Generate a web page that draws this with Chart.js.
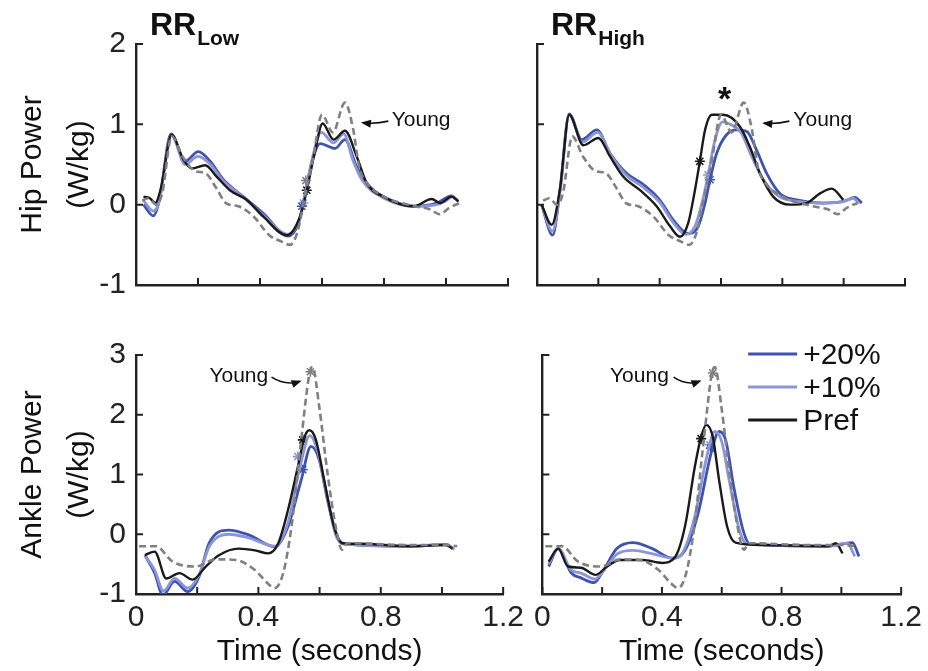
<!DOCTYPE html>
<html>
<head>
<meta charset="utf-8">
<script src="https://cdn.jsdelivr.net/npm/chart.js@4.4.1/dist/chart.umd.min.js"></script>
<style>
  body { margin: 0; background: #fff; }
  #fig { position: relative; width: 928px; height: 671px; overflow: hidden; background: #fff; }
  #fig canvas { position: absolute; }
</style>
</head>
<body>
<div id="fig">
  <canvas id="ankleLow" width="530" height="351" style="left:0;top:320px"></canvas>
  <canvas id="ankleHigh" width="400" height="351" style="left:528px;top:320px"></canvas>
  <canvas id="hipLow" width="530" height="320" style="left:0;top:0"></canvas>
  <canvas id="hipHigh" width="400" height="320" style="left:528px;top:0"></canvas>
</div>
<script>
// [time (s), power (W/kg)]
const hipYoung = [[0.02,0.05],[0.04,0.08],[0.065,0.0],[0.085,0.15],[0.115,0.85],[0.15,0.6],[0.19,0.42],[0.225,0.39],[0.26,0.2],[0.29,0.02],[0.33,-0.02],[0.38,-0.15],[0.43,-0.38],[0.47,-0.46],[0.497,-0.5],[0.52,-0.35],[0.545,0.1],[0.57,0.55],[0.6,1.12],[0.635,0.9],[0.674,1.27],[0.7,0.95],[0.72,0.47],[0.745,0.27],[0.8,0.1],[0.9,-0.02],[0.95,-0.06],[0.98,-0.12],[1.01,-0.04],[1.045,0.02]]
const ankleYoung = [[0.01,-0.2],[0.065,-0.2],[0.12,-0.46],[0.196,-0.54],[0.26,-0.42],[0.325,-0.43],[0.389,-0.6],[0.43,-0.82],[0.454,-0.9],[0.481,-0.65],[0.508,0.12],[0.54,1.58],[0.567,2.69],[0.577,2.8],[0.599,2.13],[0.626,1.02],[0.653,0.12],[0.674,-0.26],[0.69,-0.15],[0.895,-0.18],[1.013,-0.18],[1.05,-0.2]]

const hipLowPref = [[0.024,0.1],[0.045,0.08],[0.062,0.02],[0.08,0.2],[0.115,0.87],[0.153,0.56],[0.18,0.45],[0.223,0.49],[0.26,0.35],[0.303,0.18],[0.357,0.06],[0.411,-0.15],[0.486,-0.38],[0.529,-0.15],[0.551,0.18],[0.577,0.66],[0.602,1.01],[0.637,0.81],[0.674,0.92],[0.712,0.6],[0.744,0.27],[0.798,0.1],[0.895,-0.02],[0.954,0.07],[0.981,0.02],[1.018,0.1],[1.04,0.04]]
const hipLowP10 = [[0.024,0.05],[0.056,-0.08],[0.074,0.03],[0.115,0.87],[0.158,0.5],[0.2,0.6],[0.24,0.5],[0.28,0.3],[0.35,0.08],[0.41,-0.13],[0.49,-0.37],[0.525,-0.2],[0.54,0.02],[0.567,0.55],[0.598,0.9],[0.637,0.77],[0.67,0.88],[0.7,0.55],[0.73,0.3],[0.8,0.08],[0.9,-0.02],[0.97,0.0],[1.0,0.05],[1.02,0.1],[1.04,0.04]]
const hipLowP20 = [[0.024,0.0],[0.056,-0.14],[0.075,0.05],[0.113,0.88],[0.158,0.54],[0.201,0.66],[0.239,0.54],[0.282,0.31],[0.346,0.1],[0.411,-0.11],[0.491,-0.39],[0.524,-0.23],[0.54,0.02],[0.567,0.52],[0.594,0.76],[0.642,0.7],[0.674,0.81],[0.712,0.47],[0.755,0.22],[0.819,0.06],[0.895,-0.02],[0.97,0.02],[1.018,0.11],[1.04,0.04]]

const hipHighPref = [[0.015,0.0],[0.048,-0.25],[0.075,0.2],[0.105,1.12],[0.151,0.74],[0.2,0.83],[0.238,0.6],[0.281,0.35],[0.336,0.18],[0.39,-0.02],[0.434,-0.27],[0.466,-0.4],[0.493,-0.23],[0.515,0.18],[0.531,0.54],[0.548,0.93],[0.57,1.12],[0.607,1.12],[0.662,0.97],[0.694,0.72],[0.727,0.39],[0.77,0.1],[0.825,0.0],[0.879,0.02],[0.923,0.14],[0.961,0.2],[0.999,0.06]]
const hipHighP10 = [[0.015,0.0],[0.05,-0.33],[0.075,0.15],[0.105,1.12],[0.148,0.78],[0.198,0.9],[0.24,0.62],[0.29,0.37],[0.345,0.22],[0.4,0.03],[0.444,-0.22],[0.485,-0.37],[0.515,-0.27],[0.54,0.05],[0.558,0.37],[0.58,0.8],[0.605,1.03],[0.63,1.0],[0.665,0.9],[0.7,0.6],[0.74,0.3],[0.79,0.1],[0.85,0.04],[0.93,0.02],[1.0,0.04],[1.03,0.08],[1.05,0.02]]
const hipHighP20 = [[0.015,0.0],[0.051,-0.38],[0.075,0.18],[0.105,1.13],[0.146,0.81],[0.195,0.93],[0.238,0.64],[0.292,0.39],[0.347,0.25],[0.4,0.06],[0.444,-0.19],[0.493,-0.36],[0.526,-0.27],[0.548,0.02],[0.564,0.31],[0.586,0.64],[0.618,0.87],[0.651,0.93],[0.684,0.91],[0.716,0.68],[0.749,0.39],[0.792,0.14],[0.847,0.06],[0.934,0.02],[0.999,0.04],[1.037,0.09],[1.059,0.02]]

const ankleLowPref = [[0.029,-0.35],[0.061,-0.29],[0.099,-0.74],[0.142,-0.65],[0.185,-0.76],[0.228,-0.54],[0.271,-0.35],[0.335,-0.24],[0.389,-0.27],[0.432,-0.32],[0.465,-0.15],[0.497,0.41],[0.529,1.13],[0.551,1.63],[0.567,1.74],[0.588,1.58],[0.615,0.91],[0.647,0.13],[0.674,-0.15],[0.733,-0.16],[0.895,-0.2],[1.013,-0.18],[1.034,-0.24]]
const ankleLowP10 = [[0.029,-0.35],[0.061,-0.6],[0.09,-0.95],[0.126,-0.74],[0.169,-0.9],[0.206,-0.68],[0.24,-0.2],[0.303,0.0],[0.368,-0.06],[0.454,-0.2],[0.497,0.2],[0.535,1.1],[0.568,1.65],[0.593,1.4],[0.62,0.75],[0.652,0.0],[0.675,-0.16],[0.895,-0.2],[1.013,-0.17],[1.04,-0.25]]
const ankleLowP20 = [[0.029,-0.35],[0.061,-0.65],[0.088,-1.02],[0.126,-0.79],[0.169,-0.96],[0.206,-0.71],[0.239,-0.15],[0.303,0.07],[0.368,-0.01],[0.454,-0.21],[0.497,0.13],[0.54,0.91],[0.572,1.47],[0.599,1.24],[0.626,0.57],[0.658,-0.04],[0.68,-0.16],[0.895,-0.2],[1.013,-0.17],[1.04,-0.25]]

const ankleHighPref = [[0.021,-0.46],[0.053,-0.24],[0.086,-0.54],[0.129,-0.56],[0.178,-0.68],[0.216,-0.54],[0.26,-0.43],[0.336,-0.43],[0.401,-0.48],[0.444,-0.38],[0.477,0.13],[0.51,1.13],[0.531,1.63],[0.548,1.83],[0.57,1.63],[0.591,0.91],[0.618,0.13],[0.646,-0.14],[0.738,-0.18],[0.955,-0.2],[0.982,-0.15],[1.004,-0.32]]
const ankleHighP10 = [[0.021,-0.5],[0.053,-0.24],[0.097,-0.6],[0.129,-0.65],[0.175,-0.75],[0.21,-0.58],[0.25,-0.33],[0.303,-0.27],[0.37,-0.33],[0.434,-0.4],[0.47,-0.3],[0.51,0.3],[0.55,1.3],[0.577,1.72],[0.6,1.55],[0.625,0.9],[0.66,0.05],[0.685,-0.16],[0.955,-0.2],[1.02,-0.15],[1.045,-0.37]]
const ankleHighP20 = [[0.021,-0.54],[0.053,-0.24],[0.097,-0.65],[0.129,-0.73],[0.173,-0.81],[0.205,-0.6],[0.249,-0.24],[0.303,-0.14],[0.368,-0.24],[0.434,-0.4],[0.477,-0.27],[0.521,0.35],[0.564,1.35],[0.591,1.72],[0.613,1.58],[0.64,0.8],[0.673,0.04],[0.694,-0.16],[0.955,-0.2],[1.037,-0.14],[1.059,-0.37]]

// small asterisk marks, order: Pref, +10%, +20%, Young
const hipLowStars = [[0.551,0.18],[0.54,0.02],[0.535,-0.02],[0.548,0.3]]
const hipHighStars = [[0.531,0.54],[0.558,0.37],[0.564,0.31]]
const ankleLowStars = [[0.545,1.58],[0.529,1.3],[0.545,1.08],[0.57,2.72]]
const ankleHighStars = [[0.531,1.6],[0.56,1.5],[0.564,1.44],[0.57,2.7]]

const xTicks = [0, 0.4, 0.8, 1.2]
const legendLabels = ['+20%', '+10%', 'Pref']

const BLUE = '#3e54b0'
const LIGHT = '#8c96d7'
const BLACK = '#1a1a1a'
const GREY = '#808080'
const starColors = [BLACK, LIGHT, BLUE, GREY]

Chart.defaults.font.family = "'Liberation Sans', Arial, sans-serif"
Chart.defaults.color = '#1a1a1a'

const toXY = (pts) => pts.map(([x, y]) => ({ x, y }))

function arrow(ctx, x0, y0, cx, cy, x1, y1) {
  ctx.beginPath()
  ctx.moveTo(x0, y0)
  ctx.quadraticCurveTo(cx, cy, x1, y1)
  ctx.stroke()
  const ang = Math.atan2(y1 - cy, x1 - cx)
  ctx.beginPath()
  ctx.moveTo(x1 + Math.cos(ang) * 2, y1 + Math.sin(ang) * 2)
  ctx.lineTo(x1 - Math.cos(ang) * 8 - Math.sin(ang) * 4, y1 - Math.sin(ang) * 8 + Math.cos(ang) * 4)
  ctx.lineTo(x1 - Math.cos(ang) * 8 + Math.sin(ang) * 4, y1 - Math.sin(ang) * 8 - Math.cos(ang) * 4)
  ctx.closePath()
  ctx.fill()
}

const deco = {
  id: 'deco',
  afterDraw(chart, args, o) {
    const { ctx, chartArea: a, scales: { x, y } } = chart
    const px = (t) => x.getPixelForValue(t)
    const py = (v) => y.getPixelForValue(v)
    ctx.save()
    // inward tick marks
    ctx.strokeStyle = '#222'
    ctx.lineWidth = 2
    ctx.beginPath()
    x.ticks.forEach((t) => { const p = px(t.value); ctx.moveTo(p, a.bottom); ctx.lineTo(p, a.bottom - 7) })
    y.ticks.forEach((t) => { const p = py(t.value); ctx.moveTo(a.left, p); ctx.lineTo(a.left + 7, p) })
    ctx.stroke()

    ctx.fillStyle = '#111'
    // panel title with subscript
    if (o.sub) {
      ctx.textBaseline = 'alphabetic'
      ctx.textAlign = 'left'
      ctx.font = "bold 32px 'Liberation Sans', Arial, sans-serif"
      const tx = a.left + 14
      ctx.fillText('RR', tx, a.top - 9)
      const w = ctx.measureText('RR').width
      ctx.font = "bold 21px 'Liberation Sans', Arial, sans-serif"
      ctx.fillText(o.sub, tx + w + 1, a.top + 1)
    }
    // y title
    if (o.yTitle) {
      ctx.font = "30px 'Liberation Sans', Arial, sans-serif"
      ctx.textAlign = 'center'
      ctx.textBaseline = 'middle'
      const cy = (a.top + a.bottom) / 2
      o.yTitle.forEach((line, i) => {
        ctx.save()
        ctx.translate(a.left - 103 + i * 47, cy)
        ctx.rotate(-Math.PI / 2)
        ctx.fillText(line, 0, 0)
        ctx.restore()
      })
    }
    // x title
    if (o.xTitle) {
      ctx.font = "30px 'Liberation Sans', Arial, sans-serif"
      ctx.textAlign = 'center'
      ctx.textBaseline = 'middle'
      ctx.fillText(o.xTitle, (a.left + a.right) / 2, a.bottom + 58)
    }
    // "Young" callout
    if (o.young) {
      const g = o.young
      ctx.font = "21px 'Liberation Sans', Arial, sans-serif"
      ctx.textBaseline = 'middle'
      ctx.textAlign = g.align
      ctx.fillText('Young', px(g.text[0]), py(g.text[1]))
      ctx.strokeStyle = '#111'
      ctx.lineWidth = 1.6
      arrow(ctx, px(g.from[0]), py(g.from[1]), px(g.ctrl[0]), py(g.ctrl[1]), px(g.to[0]), py(g.to[1]))
    }
    // significance star
    if (o.star) {
      ctx.font = "bold 34px 'Liberation Sans', Arial, sans-serif"
      ctx.textAlign = 'center'
      ctx.textBaseline = 'middle'
      ctx.fillText('*', px(o.star[0]), py(o.star[1]))
    }
    // legend
    if (o.legend) {
      const sets = chart.data.datasets
      ctx.font = "30px 'Liberation Sans', Arial, sans-serif"
      ctx.textAlign = 'left'
      ctx.textBaseline = 'middle'
      legendLabels.forEach((lab, i) => {
        const ds = sets.find((d) => d.label === lab)
        const ly = a.top - 1 + i * 33
        ctx.strokeStyle = ds.borderColor
        ctx.lineWidth = 3
        ctx.beginPath()
        ctx.moveTo(a.right - 153, ly)
        ctx.lineTo(a.right - 104, ly)
        ctx.stroke()
        ctx.fillStyle = '#111'
        ctx.fillText(lab, a.right - 98, ly + 2)
      })
    }
    ctx.restore()
  },
}

function makePanel(id, series, stars, opts) {
  const [young, pref, p10, p20] = series
  const line = (label, pts, color, width, dash) => ({
    label,
    data: toXY(pts),
    borderColor: color,
    borderWidth: width,
    borderDash: dash || [],
    pointRadius: 0,
    fill: false,
    cubicInterpolationMode: 'monotone',
  })
  const datasets = [
    line('Young', young, GREY, 2.6, [7, 4]),
    line('Pref', pref, BLACK, 2.4),
    line('+10%', p10, LIGHT, 2.8),
    line('+20%', p20, BLUE, 2.8),
    {
      label: 'marks',
      data: toXY(stars),
      showLine: false,
      pointStyle: 'star',
      pointRadius: 5,
      pointBorderWidth: 1.6,
      pointBorderColor: starColors.slice(0, stars.length),
      pointBackgroundColor: 'transparent',
    },
  ]
  return new Chart(document.getElementById(id), {
    type: 'line',
    data: { datasets },
    options: {
      responsive: false,
      animation: false,
      devicePixelRatio: 1,
      layout: { padding: opts.padding },
      plugins: { legend: { display: false }, tooltip: { enabled: false }, deco: opts.deco },
      scales: {
        x: {
          type: 'linear',
          min: 0,
          max: 1.2,
          grid: { display: false, drawTicks: false },
          border: { display: true, color: '#222', width: 2.4 },
          ticks: {
            display: opts.xLabels,
            stepSize: 0.2,
            autoSkip: false,
            maxRotation: 0,
            padding: 6,
            color: '#222',
            font: { size: 30 },
            callback: (v) => {
              const hit = xTicks.find((t) => Math.abs(t - v) < 1e-6)
              return hit === undefined ? '' : hit === 0 ? '0' : hit.toFixed(1)
            },
          },
          afterFit: (s) => { s.height = opts.xHeight },
        },
        y: {
          min: -1,
          max: opts.yMax,
          grid: { display: false, drawTicks: false },
          border: { display: true, color: '#222', width: 2.4 },
          ticks: {
            display: opts.yLabels,
            stepSize: 1,
            padding: 10,
            color: '#222',
            font: { size: 30 },
          },
          afterFit: (s) => { s.width = opts.yWidth },
        },
      },
    },
    plugins: [deco],
  })
}

makePanel('hipLow', [hipYoung, hipLowPref, hipLowP10, hipLowP20], hipLowStars, {
  padding: { left: 0, top: 44, right: 22, bottom: 35 },
  xLabels: false, xHeight: 0, yLabels: true, yWidth: 136, yMax: 2,
  deco: {
    sub: 'Low', yTitle: ['Hip Power', '(W/kg)'],
    young: { align: 'left', text: [0.825, 1.05], from: [0.814, 1.04], ctrl: [0.771, 1.0], to: [0.732, 1.02] },
  },
})
makePanel('hipHigh', [hipYoung, hipHighPref, hipHighP10, hipHighP20], hipHighStars, {
  padding: { left: 9, top: 44, right: 23, bottom: 35 },
  xLabels: false, xHeight: 0, yLabels: false, yWidth: 0, yMax: 2,
  deco: {
    sub: 'High', star: [0.612, 1.3],
    young: { align: 'left', text: [0.836, 1.05], from: [0.823, 1.04], ctrl: [0.779, 1.0], to: [0.741, 1.015] },
  },
})
makePanel('ankleLow', [ankleYoung, ankleLowPref, ankleLowP10, ankleLowP20], ankleLowStars, {
  padding: { left: 0, top: 35, right: 22, bottom: 0 },
  xLabels: true, xHeight: 77, yLabels: true, yWidth: 136, yMax: 3,
  deco: {
    yTitle: ['Ankle Power', '(W/kg)'], xTitle: 'Time (seconds)',
    young: { align: 'right', text: [0.432, 2.64], from: [0.443, 2.63], ctrl: [0.49, 2.48], to: [0.535, 2.56] },
  },
})
makePanel('ankleHigh', [ankleYoung, ankleHighPref, ankleHighP10, ankleHighP20], ankleHighStars, {
  padding: { left: 9, top: 35, right: 23, bottom: 0 },
  xLabels: true, xHeight: 77, yLabels: false, yWidth: 0, yMax: 3,
  deco: {
    xTitle: 'Time (seconds)', legend: true,
    young: { align: 'right', text: [0.423, 2.64], from: [0.439, 2.63], ctrl: [0.483, 2.48], to: [0.526, 2.56] },
  },
})
</script>
</body>
</html>
